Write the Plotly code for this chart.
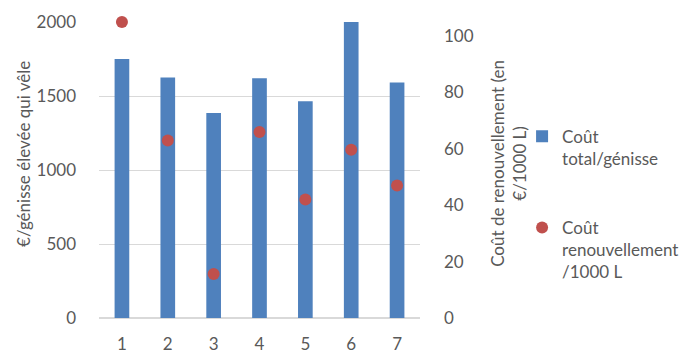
import plotly.graph_objects as go

categories = [1, 2, 3, 4, 5, 6, 7]
cout_total_genisse = [1750, 1625, 1385, 1620, 1465, 2000, 1592]
cout_renouvellement = [105, 63, 15.6, 66, 42, 59.7, 47]
left_ticks = [0, 500, 1000, 1500, 2000]
right_ticks = [0, 20, 40, 60, 80, 100]

FONT = "Lato"
GREY = "#595959"

fig = go.Figure()
fig.add_trace(go.Bar(
    x=categories, y=cout_total_genisse, width=0.32,
    marker=dict(color="#4f81bd", line=dict(width=0)),
    name="Coût<br>total/génisse", legendgroup="a",
))
fig.add_trace(go.Scatter(
    x=categories, y=cout_renouvellement, mode="markers", yaxis="y2",
    marker=dict(color="#c0504d", size=12), cliponaxis=False,
    name="Coût<br>renouvellement<br>/1000 L", legendgroup="b",
))

fig.update_layout(
    width=688, height=346,
    margin=dict(l=91, r=276, t=14, b=36, autoexpand=False),
    paper_bgcolor="white", plot_bgcolor="white",
    font=dict(family=FONT, size=17, color=GREY),
    showlegend=True,
    legend=dict(x=1.318, y=0.673, xanchor="left", yanchor="top",
                valign="top", traceorder="grouped", tracegroupgap=44,
                font=dict(size=17, color=GREY), itemwidth=30),
    xaxis=dict(range=[0.5, 7.5], tickvals=categories, showgrid=False,
               zeroline=False, showline=False, ticks="", ticklabelstandoff=14,
               automargin=False),
    yaxis=dict(range=[0, 2000], tickvals=left_ticks, showgrid=True,
               gridcolor="#d9d9d9", gridwidth=1, zeroline=True,
               zerolinecolor="#d9d9d9", showline=False, ticks="",
               ticklabelstandoff=22, automargin=False),
    yaxis2=dict(range=[0, 105], tickvals=right_ticks, overlaying="y",
                side="right", showgrid=False, zeroline=False, showline=False,
                ticks="", ticklabelstandoff=23, automargin=False),
    annotations=[
        dict(text="€/génisse élevée qui vêle", xref="paper", yref="paper",
             x=-0.237, y=0.554, xanchor="center", yanchor="middle",
             textangle=-90, showarrow=False,
             font=dict(size=17, color=GREY)),
        dict(text="Coût de renouvellement (en<br>€/1000 L)", xref="paper",
             yref="paper", x=1.277, y=0.524, xanchor="center",
             yanchor="middle", textangle=-90, showarrow=False,
             font=dict(size=17, color=GREY)),
    ],
)

fig.write_html("out.html")
